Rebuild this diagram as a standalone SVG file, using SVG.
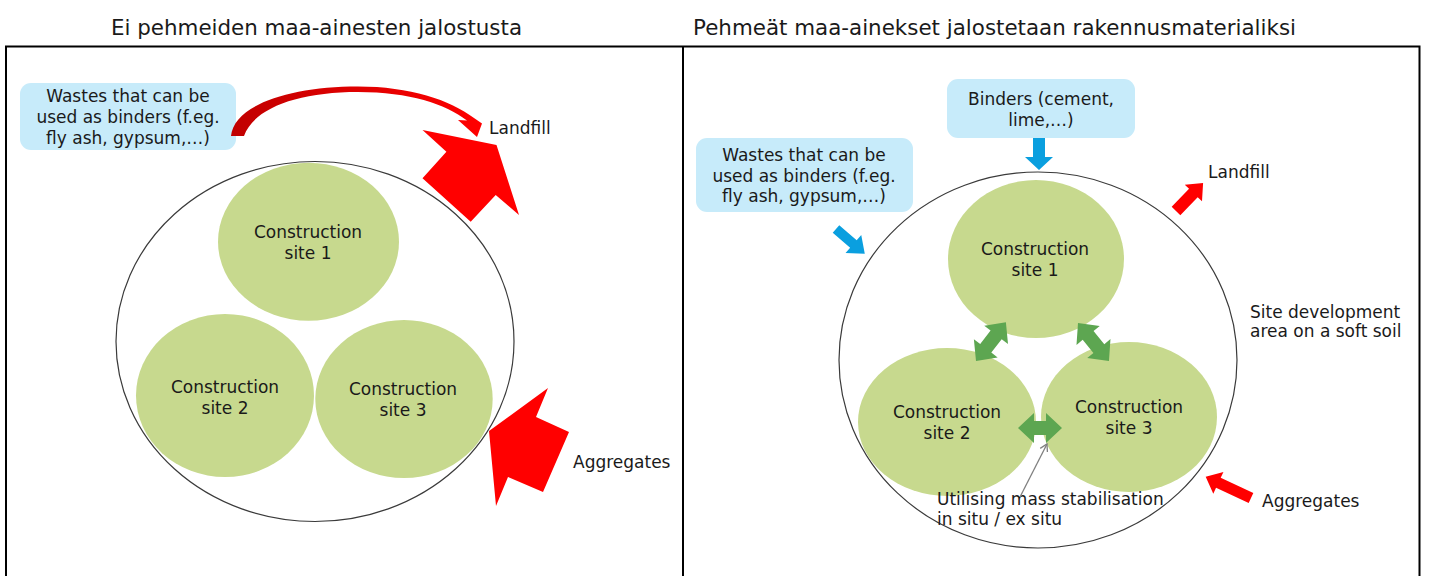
<svg xmlns="http://www.w3.org/2000/svg" width="1430" height="576" viewBox="0 0 1430 576">
<defs>
<style>
text{font-family:"DejaVu Sans","Verdana",sans-serif;fill:#1a1a1a;font-size:17px}
.title{font-size:22px}
.mid{text-anchor:middle}
.box{fill:#C7EBFA}
.site{fill:#C7D98E}
.area{fill:none;stroke:#3a3a3a;stroke-width:1.2}
.frame{fill:none;stroke:#000;stroke-width:2}
.red{fill:#FF0000}
.blue{fill:#0A9FDF}
.green{fill:#5DA651}
.ptr{fill:none;stroke:#808080;stroke-width:1.3}
</style>
<linearGradient id="curveGrad" x1="0" y1="0" x2="1" y2="0">
<stop offset="0" stop-color="#C00000"/>
<stop offset="1" stop-color="#FF0000"/>
</linearGradient>
</defs>
<rect width="1430" height="576" fill="#fff"/>

<g id="frame">
<path class="frame" d="M6,580 V46.5 H1419.5 V580 M683,46.5 V580"/>
</g>

<g id="titles">
<text class="title" x="111" y="35" textLength="411" lengthAdjust="spacingAndGlyphs">Ei pehmeiden maa-ainesten jalostusta</text>
<text class="title" x="693" y="35" textLength="603" lengthAdjust="spacingAndGlyphs">Pehmeät maa-ainekset jalostetaan rakennusmaterialiksi</text>
</g>

<!-- LEFT PANEL -->
<g id="left-area"><ellipse class="area" cx="315" cy="341.5" rx="199" ry="180"/></g>
<g id="left-site1"><ellipse class="site" cx="308.5" cy="241.7" rx="90.5" ry="79"/>
<text class="mid" x="308" y="238">Construction</text><text class="mid" x="308" y="259">site 1</text></g>
<g id="left-site2"><ellipse class="site" cx="225" cy="395.5" rx="89" ry="81.5"/>
<text class="mid" x="225" y="392.5">Construction</text><text class="mid" x="225" y="413.5">site 2</text></g>
<g id="left-site3"><ellipse class="site" cx="404" cy="399" rx="88.7" ry="79"/>
<text class="mid" x="403" y="395">Construction</text><text class="mid" x="403" y="416">site 3</text></g>
<g id="left-wastes"><rect class="box" x="20" y="83" width="216" height="67" rx="11"/>
<text class="mid" x="128" y="101.5">Wastes that can be</text>
<text class="mid" x="128" y="122.5">used as binders (f.eg.</text>
<text class="mid" x="128" y="143.5">fly ash, gypsum,…)</text></g>
<g id="left-landfill"><text x="489" y="133.5">Landfill</text></g>
<g id="left-aggregates"><text x="573" y="468">Aggregates</text></g>

<g id="left-connectors">
<path fill="url(#curveGrad)" d="M231,136 C234,105 290,86.5 358,86.5 C410,86.5 450,100 474,118 L482,123.5 L477,137 L458,120 L467,120.5 C445,104 410,92 358,92 C298,92 254,108 244,136 Z"/>
<polygon class="red" points="422.5,130 496.5,145 519,215 495.7,195 470.7,221.7 422.5,178.3 446.4,151.7"/>
<polygon class="red" points="548,388 536,417 569,432 543,492 508,477 496,506 489,431"/>
</g>

<!-- RIGHT PANEL -->
<g id="right-area"><ellipse class="area" cx="1038" cy="360" rx="199" ry="188"/></g>
<g id="right-site1"><ellipse class="site" cx="1036" cy="259" rx="88" ry="79"/>
<text class="mid" x="1035" y="255">Construction</text><text class="mid" x="1035" y="275.5">site 1</text></g>
<g id="right-site2"><ellipse class="site" cx="947" cy="422" rx="89" ry="74"/>
<text class="mid" x="947" y="418">Construction</text><text class="mid" x="947" y="438.5">site 2</text></g>
<g id="right-site3"><ellipse class="site" cx="1129" cy="417" rx="88" ry="75"/>
<text class="mid" x="1129" y="413">Construction</text><text class="mid" x="1129" y="434">site 3</text></g>
<g id="right-binders"><rect class="box" x="947" y="79" width="188" height="59" rx="11"/>
<text class="mid" x="1041" y="105">Binders (cement,</text>
<text class="mid" x="1041" y="126">lime,…)</text></g>
<g id="right-wastes"><rect class="box" x="696" y="138" width="217" height="74" rx="11"/>
<text class="mid" x="804" y="160.5">Wastes that can be</text>
<text class="mid" x="804" y="181.5">used as binders (f.eg.</text>
<text class="mid" x="804" y="202">fly ash, gypsum,…)</text></g>
<g id="right-landfill"><text x="1208" y="177.5">Landfill</text></g>
<g id="right-aggregates"><text x="1262" y="506.5">Aggregates</text></g>
<g id="right-area-label"><text x="1250" y="318">Site development</text><text x="1250" y="337">area on a soft soil</text></g>
<g id="right-ms-label"><text x="937" y="505">Utilising mass stabilisation</text><text x="937" y="524.5">in situ / ex situ</text></g>

<g id="right-connectors">
<path class="blue" transform="translate(836,229) rotate(40.8)" d="M0,-5 L23,-5 L23,-12 L38,0 L23,12 L23,5 L0,5 Z"/>
<path class="blue" transform="translate(1039,138) rotate(90)" d="M0,-6 L19,-6 L19,-14 L32,0 L19,14 L19,6 L0,6 Z"/>
<path class="red" transform="translate(1176,211) rotate(-46)" d="M0,-6 L25,-6 L25,-12 L39,0 L25,12 L25,6 L0,6 Z"/>
<path class="red" transform="translate(1251,498) rotate(205)" d="M0,-5.5 L36,-5.5 L36,-12 L50,0 L36,12 L36,5.5 L0,5.5 Z"/>
<path class="green" transform="translate(976,361) rotate(-52.4)" d="M0,0 L16,-15 L16,-7 L33,-7 L33,-15 L49,0 L33,15 L33,7 L16,7 L16,15 Z"/>
<path class="green" transform="translate(1078,323) rotate(50.8)" d="M0,0 L16,-15 L16,-7 L33,-7 L33,-15 L49,0 L33,15 L33,7 L16,7 L16,15 Z"/>
<path class="green" transform="translate(1018,428)" d="M0,0 L16,-15 L16,-7 L28,-7 L28,-15 L44,0 L28,15 L28,7 L16,7 L16,15 Z"/>
<line class="ptr" x1="1020" y1="497" x2="1047" y2="444"/>
<polyline class="ptr" points="1040.2,448.4 1047,444 1047.4,452"/>
</g>
</svg>
